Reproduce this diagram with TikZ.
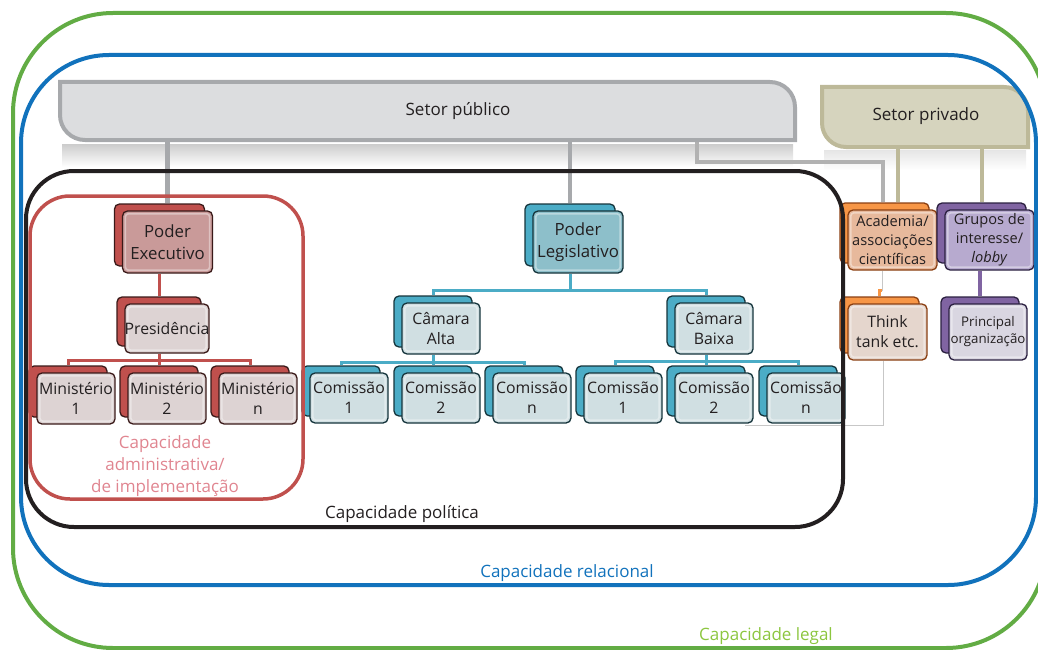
\documentclass[tikz,border=0pt]{standalone}
\usepackage{fontspec}
\setmainfont{Open Sans}
\usetikzlibrary{calc}
\pgfdeclarelayer{bg}
\pgfsetlayers{bg,main}
\definecolor{txt}{HTML}{231F20}
\definecolor{cgreen}{HTML}{62AC44}
\definecolor{lgreen}{HTML}{8CC63F}
\definecolor{cblue}{HTML}{1172BC}
\definecolor{cblack}{HTML}{231F20}
\definecolor{cred}{HTML}{C0504D}
\definecolor{lpink}{HTML}{E08590}
\definecolor{grayfill}{HTML}{DCDDDF}
\definecolor{grayline}{HTML}{A7A9AC}
\definecolor{beigefill}{HTML}{D6D4BE}
\definecolor{beigeline}{HTML}{BDB999}
\definecolor{redback}{HTML}{C0504D}
\definecolor{redtop}{HTML}{C99A99}
\definecolor{redfront}{HTML}{DDD3D3}
\definecolor{redline}{HTML}{3A1A19}
\definecolor{tealback}{HTML}{4BACC6}
\definecolor{tealtop}{HTML}{8DBFCA}
\definecolor{tealfront}{HTML}{D0DFE2}
\definecolor{tealline}{HTML}{15343B}
\definecolor{orback}{HTML}{F79646}
\definecolor{ortop}{HTML}{E7B99C}
\definecolor{orfront}{HTML}{E5D6CD}
\definecolor{orline}{HTML}{8A3F12}
\definecolor{puback}{HTML}{8064A2}
\definecolor{putop}{HTML}{B7AACF}
\definecolor{pufront}{HTML}{D9D6E1}
\definecolor{puline}{HTML}{2B2040}
\newcommand\SN[7]{%
  \node[bbox, draw=#5, fill=#3, #6] (#1b) at ($#2+(-8,7)$) {};
  \node[fbox, draw=#5, fill=#4, #6] (#1) at #2 {};
  \draw[white, opacity=.4, line width=1.6pt, rounded corners=3pt]
    ($(#1.north west)+(3.5,-3.5)$) rectangle ($(#1.south east)+(-3.5,3.5)$);
  \node[align=center, text=txt, inner sep=0pt, #6, minimum width=0pt, minimum height=0pt] at #2 {#7};
}
\begin{document}
\begin{tikzpicture}[x=1pt,y=1pt,
  bbox/.style={rounded corners=5pt, line width=1.3pt, inner sep=0pt},
  fbox/.style={rounded corners=5pt, line width=1.3pt, inner sep=0pt},
  nf/.style={font=\fontsize{15.8}{20}\selectfont},
  tf/.style={font=\fontsize{16.8}{22}\selectfont},
  lab/.style={font=\fontsize{17}{22}\selectfont, align=center},
  grayconn/.style={draw=grayline, line width=4.5pt},
  beigeconn/.style={draw=beigeline, line width=4pt},
  redconn/.style={draw=cred, line width=3pt},
  tealconn/.style={draw=tealback, line width=3pt},
  puconn/.style={draw=puback, line width=3.5pt},
  orconn/.style={draw=orback, line width=2.5pt},
  thingray/.style={draw=black!22, line width=1pt},
  frame/.style={line width=4pt}
]
\useasboundingbox (0,0) rectangle (1038,-650);

% Setor publico
\draw[fill=grayfill, draw=grayline, line width=4pt]
  (60,-82) -- (770,-82) arc[start angle=90, end angle=0, radius=25] -- (795,-140)
  -- (85,-140) arc[start angle=270, end angle=180, radius=25] -- cycle;
\node[minimum height=58pt, inner sep=0pt, text=txt,
  font=\fontsize{17}{20}\selectfont] (spub) at (458,-111) {Setor público};

% Setor privado
\draw[fill=beigefill, draw=beigeline, line width=4pt]
  (822,-87) -- (1004,-87) arc[start angle=90, end angle=0, radius=24] -- (1028,-147)
  -- (846,-147) arc[start angle=270, end angle=180, radius=24] -- cycle;
\node[minimum height=60pt, inner sep=0pt, text=txt,
  font=\fontsize{17}{20}\selectfont] (spriv) at (926,-116) {Setor privado};

% Executive
\SN{pe}{(167.5,-242)}{redback}{redtop}{redline}{minimum width=90pt, minimum height=62pt, tf}{Poder\\Executivo}
\SN{pres}{(167,-328.5)}{redback}{redfront}{redline}{minimum width=84pt, minimum height=49pt, nf}{Presidência}
\SN{ma}{(76,-398.5)}{redback}{redfront}{redline}{minimum width=78pt, minimum height=51pt, nf}{Ministério\\1}
\SN{mb}{(167,-398.5)}{redback}{redfront}{redline}{minimum width=78pt, minimum height=51pt, nf}{Ministério\\2}
\SN{mc}{(258,-398.5)}{redback}{redfront}{redline}{minimum width=78pt, minimum height=51pt, nf}{Ministério\\n}

% Legislative
\SN{pl}{(578,-242)}{tealback}{tealtop}{tealline}{minimum width=90pt, minimum height=62pt, tf}{Poder\\Legislativo}
\SN{ca}{(441,-328.5)}{tealback}{tealfront}{tealline}{minimum width=78pt, minimum height=51pt, nf}{Câmara\\Alta}
\SN{cb}{(714,-328.5)}{tealback}{tealfront}{tealline}{minimum width=78pt, minimum height=51pt, nf}{Câmara\\Baixa}
\SN{aa}{(349,-398)}{tealback}{tealfront}{tealline}{minimum width=78pt, minimum height=50pt, nf}{Comissão\\1}
\SN{ab}{(441,-398)}{tealback}{tealfront}{tealline}{minimum width=78pt, minimum height=50pt, nf}{Comissão\\2}
\SN{ac}{(532,-398)}{tealback}{tealfront}{tealline}{minimum width=78pt, minimum height=50pt, nf}{Comissão\\n}
\SN{ba}{(623,-398)}{tealback}{tealfront}{tealline}{minimum width=78pt, minimum height=50pt, nf}{Comissão\\1}
\SN{bb}{(714,-398)}{tealback}{tealfront}{tealline}{minimum width=78pt, minimum height=50pt, nf}{Comissão\\2}
\SN{bc}{(806,-398)}{tealback}{tealfront}{tealline}{minimum width=78pt, minimum height=50pt, nf}{Comissão\\n}

% Private
\SN{acad}{(892.5,-240)}{orback}{ortop}{orline}{minimum width=89pt, minimum height=60pt, font=\fontsize{14.6}{19}\selectfont}{Academia/\\associações\\científicas}
\SN{gr}{(989.5,-240)}{puback}{putop}{puline}{minimum width=89pt, minimum height=60pt, font=\fontsize{14.6}{19}\selectfont}{Grupos de\\interesse/\\\textit{lobby}}
\SN{tt}{(887.5,-332)}{orback}{orfront}{orline}{minimum width=79pt, minimum height=56pt, nf}{Think\\tank etc.}
\SN{po}{(988,-332)}{puback}{pufront}{puline}{minimum width=78pt, minimum height=56pt, font=\fontsize{13.3}{17}\selectfont}{Principal\\organização}

% connectors and reflections
\begin{pgfonlayer}{bg}
\shade[top color=black!20, bottom color=white] (62,-144) rectangle (793,-167);
\shade[top color=black!10, bottom color=white] (824,-150) rectangle (1026,-170);
\draw[grayconn] (spub.south -| pe) -- (peb.north -| pe);
\draw[grayconn] (spub.south -| plb) -- (plb.north);
\coordinate (gk) at (883,-162);
\draw[draw=black!30, line width=4pt] ($(spub.south)+(239,0)$) |- (gk) -- (gk |- acadb.north);
\coordinate (s1) at ($(spriv.south)+(-28,0)$);
\coordinate (s2) at ($(spriv.south)+(56,0)$);
\draw[beigeconn] (s1) -- (s1 |- acadb.north);
\draw[beigeconn] (s2) -- (s2 |- grb.north);

\draw[redconn] (presb.north) -- (presb.north |- pe.south);
\draw[redconn] (pres.south -| presb) -- ++(0,-7) coordinate (rj);
\draw[redconn] (rj) -| (mab.north);
\draw[redconn] (rj) -| (mcb.north);
\draw[redconn] (rj) -- (mbb.north);

\draw[tealconn] (pl.south -| plb) -- ++(0,-17) coordinate (tj);
\draw[tealconn] (tj) -| (cab.north);
\draw[tealconn] (tj) -| (cbb.north);
\draw[tealconn] (ca.south -| cab) -- ++(0,-8) coordinate (aj);
\draw[tealconn] (aj) -| (aab.north);
\draw[tealconn] (aj) -| (acb.north);
\draw[tealconn] (aj) -- (abb.north);
\draw[tealconn] (cb.south -| cbb) -- ++(0,-7) coordinate (bj);
\draw[tealconn] (bj) -| (bab.north);
\draw[tealconn] (bj) -| (bcb.north);
\draw[tealconn] (bj) -- (bbb.north);

\draw[puconn] (gr.south -| pob) -- (pob.north);
\coordinate (t1) at ($(acad.south)+(-10.5,0)$);
\draw[thingray] (t1) -- ++(0,-20) coordinate (t2);
\draw[orconn] (t2) -| (ttb.north);
\coordinate (t3) at ($(tt.south)+(-4.5,0)$);
\draw[thingray] (t3) -- ++(0,-65) -- ++(-138,0);
\end{pgfonlayer}

% capacity frames
\draw[frame, draw=cgreen, rounded corners=100pt] (13,-13) rectangle (1046,-648);
\draw[frame, draw=cblue, rounded corners=88pt] (21,-55) rectangle (1036,-585);
\draw[frame, draw=cblack, rounded corners=48pt] (26,-171) rectangle (843,-527);
\draw[line width=3.5pt, draw=cred, rounded corners=40pt] (30,-196) rectangle (303,-499);

% labels
\node[lab, text=lpink] (l1) at (165,-466) {Capacidade\\administrativa/\\de implementação};
\node[lab, text=txt] (l2) at (402,-514) {Capacidade política};
\node[lab, text=cblue] (l3) at (567,-573) {Capacidade relacional};
\node[lab, text=lgreen] (l4) at (766,-636) {Capacidade legal};
\end{tikzpicture}
\end{document}
